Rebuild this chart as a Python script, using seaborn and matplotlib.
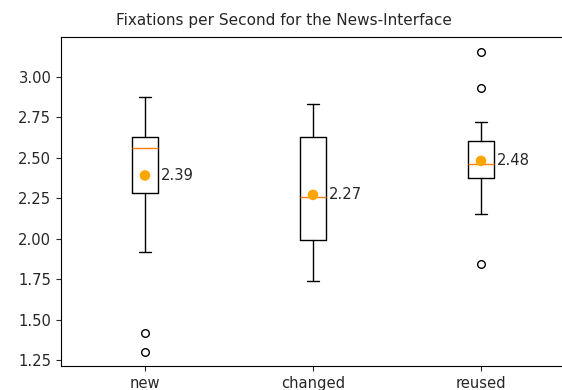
import numpy as np
import pandas as pd
import matplotlib
matplotlib.use("Agg")
import matplotlib.pyplot as plt
import seaborn as sns

# Summary statistics of fixations per second for each interface condition
conditions = ["new", "changed", "reused"]
whisker_low = [1.92, 1.735, 2.15]
q1 = [2.28, 1.99, 2.375]
medians = [2.56, 2.255, 2.46]
q3 = [2.625, 2.625, 2.60]
whisker_high = [2.875, 2.83, 2.72]
outliers = [[1.415, 1.30], [], [3.15, 2.93, 1.84]]
means = [2.39, 2.27, 2.48]

sns.set_style("white", {
    "axes.edgecolor": "black",
    "xtick.bottom": True,
    "ytick.left": True,
    "axes.spines.top": True,
    "axes.spines.right": True,
})
plt.rcParams["font.family"] = ["DejaVu Sans"]

fig = plt.figure(figsize=(5.62, 3.90), dpi=100)
ax = fig.add_axes([0.1085, 0.0615, 0.8968, 0.8436])

positions = np.arange(1, len(conditions) + 1)
stats = []
for i, name in enumerate(conditions):
    stats.append({
        "label": name,
        "whislo": whisker_low[i],
        "q1": q1[i],
        "med": medians[i],
        "q3": q3[i],
        "whishi": whisker_high[i],
        "fliers": np.array(outliers[i]),
    })

ax.bxp(
    stats,
    positions=positions,
    widths=0.15,
    boxprops={"color": "black", "linewidth": 1.0},
    whiskerprops={"color": "black", "linewidth": 1.0},
    capprops={"color": "black", "linewidth": 1.0},
    medianprops={"color": "#ff7f0e", "linewidth": 1.0},
    flierprops={"marker": "o", "markerfacecolor": "none",
                "markeredgecolor": "black", "markersize": 5.5,
                "markeredgewidth": 1.0},
)

mean_df = pd.DataFrame({"pos": positions, "mean": means})
sns.scatterplot(data=mean_df, x="pos", y="mean", color="orange",
                s=58, edgecolor="none", zorder=5, ax=ax, legend=False)

for p, m in zip(positions, means):
    ax.text(p + 0.095, m, f"{m:.2f}", va="center", ha="left",
            fontsize=10.6, color="#262626")

ax.set_xlim(0.5, 3.5)
ax.set_ylim(1.213, 3.245)
ax.set_xticks(positions)
ax.set_xticklabels(conditions)
ax.set_yticks([1.25, 1.50, 1.75, 2.00, 2.25, 2.50, 2.75, 3.00])
ax.set_yticklabels([f"{v:.2f}" for v in ax.get_yticks()])
ax.tick_params(labelsize=10.6, colors="#262626", length=3.5, width=0.8)
ax.set_xlabel("")
ax.set_ylabel("")
for s in ax.spines.values():
    s.set_linewidth(0.8)
    s.set_color("black")

# Title centred over the visible figure area
fig.text(284 / 562, 1 - 21 / 390, "Fixations per Second for the News-Interface",
         ha="center", va="center", fontsize=11, color="#262626")

fig.savefig("out.png", dpi=100)
